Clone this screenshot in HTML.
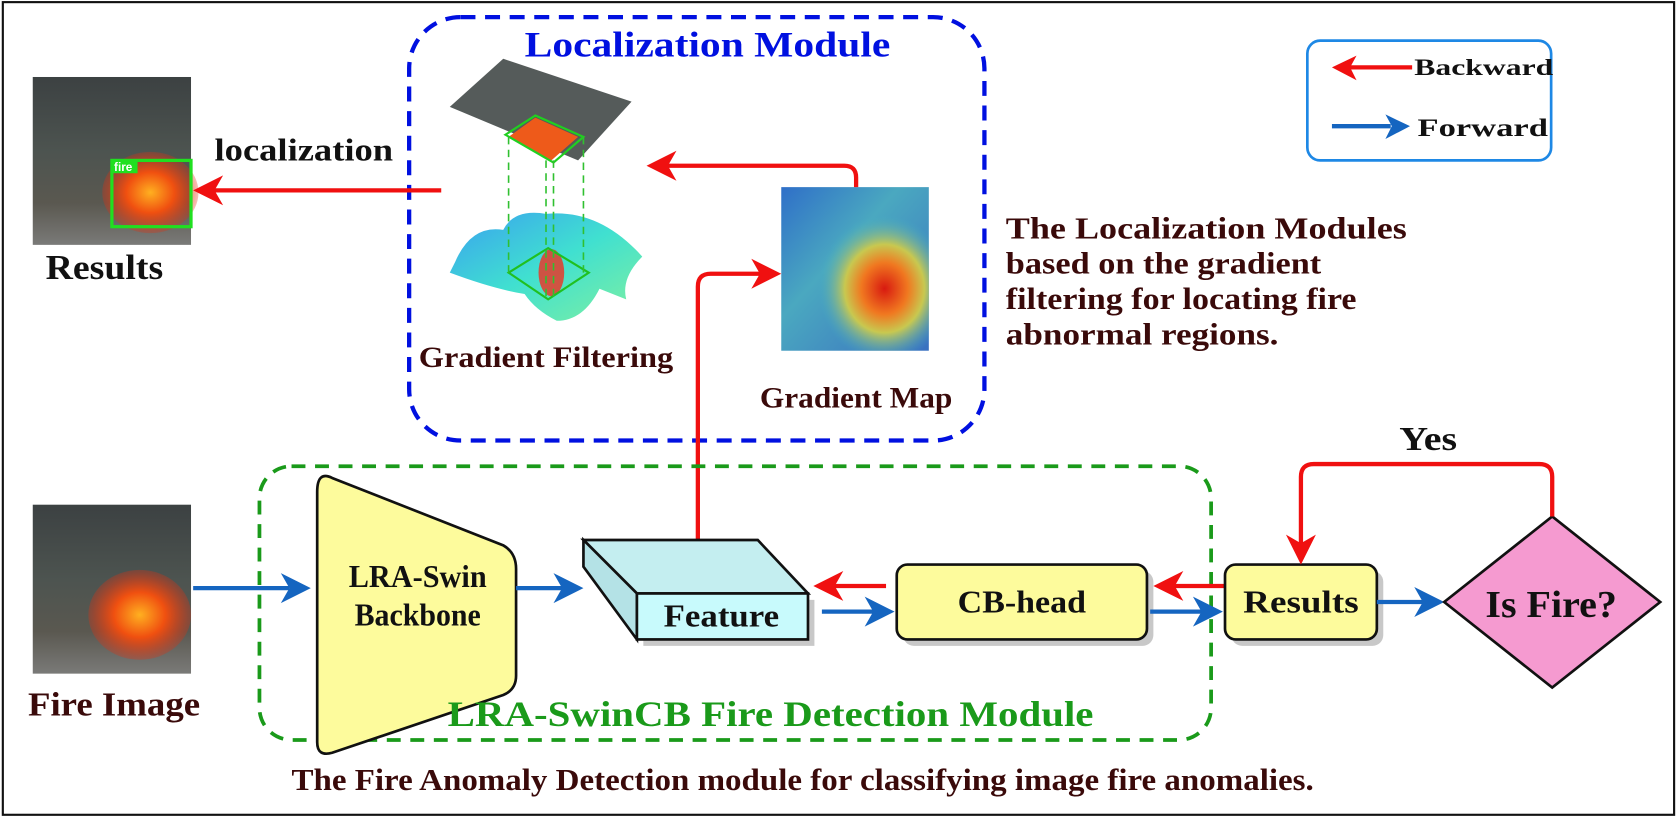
<!DOCTYPE html>
<html><head><meta charset="utf-8"><style>
html,body{margin:0;padding:0;background:#fff;}
svg{display:block;}
text{font-family:"Liberation Serif",serif;font-weight:bold;}
</style></head><body>
<svg width="1678" height="818" viewBox="0 0 1568 765" xmlns="http://www.w3.org/2000/svg">
<defs>
<linearGradient id="fireimg" x1="0" y1="0" x2="0" y2="1">
<stop offset="0" stop-color="#3c4142"/><stop offset="0.45" stop-color="#4d5450"/><stop offset="0.75" stop-color="#5a5850"/><stop offset="1" stop-color="#7a7a78"/></linearGradient>
<radialGradient id="flame" cx="0.5" cy="0.5" r="0.5"><stop offset="0" stop-color="#ffb020"/><stop offset="0.5" stop-color="#f05010"/><stop offset="1" stop-color="#e03010" stop-opacity="0.3"/></radialGradient>
<radialGradient id="heat" cx="0.7" cy="0.62" r="0.45"><stop offset="0" stop-color="#d81a10"/><stop offset="0.35" stop-color="#f07820"/><stop offset="0.6" stop-color="#c8c850"/><stop offset="1" stop-color="#3fb0c8" stop-opacity="0"/></radialGradient>
<linearGradient id="heatbg" x1="0" y1="0" x2="1" y2="1"><stop offset="0" stop-color="#2f6fc8"/><stop offset="0.4" stop-color="#4aa8c0"/><stop offset="1" stop-color="#3a70c0"/></linearGradient>
<linearGradient id="surf" x1="0" y1="0" x2="1" y2="1"><stop offset="0" stop-color="#3aa0f0"/><stop offset="0.5" stop-color="#40e0d0"/><stop offset="1" stop-color="#80f0a0"/></linearGradient>
</defs>
<rect x="2" y="2" width="1563" height="760" fill="#fff" stroke="#111" stroke-width="2"/>

<rect x="382" y="16" width="538" height="396" rx="48" fill="none" stroke="#0010e0" stroke-width="4" stroke-dasharray="14,9"/>
<text x="661" y="53" font-size="34" fill="#0010e0" text-anchor="middle" textLength="342" lengthAdjust="spacingAndGlyphs">Localization Module</text>

<rect x="1222" y="38" width="228" height="112" rx="12" fill="#fff" stroke="#1e88e5" stroke-width="2.5"/>
<line x1="1320" y1="63" x2="1260" y2="63" stroke="#f01010" stroke-width="4"/>
<polygon points="1245,63 1268,52 1262,63 1268,75" fill="#f01010"/>
<text x="1322" y="70" font-size="22" fill="#111" textLength="130" lengthAdjust="spacingAndGlyphs">Backward</text>
<line x1="1245" y1="118" x2="1300" y2="118" stroke="#1565c0" stroke-width="4"/>
<polygon points="1318,118 1295,107 1301,118 1295,130" fill="#1565c0"/>
<text x="1325" y="127" font-size="24" fill="#111" textLength="122" lengthAdjust="spacingAndGlyphs">Forward</text>

<rect x="30" y="72" width="148" height="157" fill="url(#fireimg)"/>
<ellipse cx="140" cy="180" rx="45" ry="38" fill="url(#flame)"/>
<rect x="104" y="150" width="74" height="62" fill="none" stroke="#20e020" stroke-width="3"/>
<rect x="104" y="150" width="24" height="12" fill="#20e020"/>
<text x="106" y="160" font-size="11" fill="#fff" style="font-family:'Liberation Sans',sans-serif">fire</text>
<text x="97" y="261" font-size="33" fill="#111" text-anchor="middle" textLength="110" lengthAdjust="spacingAndGlyphs">Results</text>
<text x="200" y="150" font-size="30" fill="#111" textLength="167" lengthAdjust="spacingAndGlyphs">localization</text>
<line x1="412" y1="178" x2="198" y2="178" stroke="#f01010" stroke-width="4"/>
<polygon points="180,178 208,164 200,178 208,192" fill="#f01010"/>

<polygon points="420,100 470,55 590,95 540,150" fill="#555b5a"/>
<polygon points="475,128 500,110 540,128 515,150" fill="#ee5a1a"/>
<polygon points="472,126 500,108 545,128 517,152" fill="none" stroke="#20d020" stroke-width="2"/>
<path d="M425,245 Q440,210 470,215 Q480,195 510,200 Q560,195 600,240 Q580,260 585,280 L560,270 Q545,300 520,300 Q500,290 490,275 Q460,270 420,255 Z" fill="url(#surf)"/>
<ellipse cx="515" cy="255" rx="12" ry="22" fill="#f03020" opacity="0.8"/>
<polygon points="475,255 512,232 550,255 512,280" fill="none" stroke="#20c020" stroke-width="2"/>
<g stroke="#30c030" stroke-width="1.5" stroke-dasharray="7,5">
<line x1="475" y1="128" x2="475" y2="255"/><line x1="545" y1="128" x2="545" y2="255"/>
<line x1="510" y1="150" x2="510" y2="280"/><line x1="517" y1="150" x2="517" y2="280"/>
</g>
<text x="510" y="343" font-size="28" fill="#3a0a0a" text-anchor="middle" textLength="238" lengthAdjust="spacingAndGlyphs">Gradient Filtering</text>

<rect x="730" y="175" width="138" height="153" fill="url(#heatbg)"/>
<rect x="730" y="175" width="138" height="153" fill="url(#heat)"/>
<text x="800" y="381" font-size="28" fill="#3a0a0a" text-anchor="middle" textLength="180" lengthAdjust="spacingAndGlyphs">Gradient Map</text>
<path d="M800,175 L800,166 Q800,155 789,155 L622,155" fill="none" stroke="#f01010" stroke-width="4"/>
<polygon points="604,155 632,141 624,155 632,169" fill="#f01010"/>
<path d="M652,505 L652,268 Q652,256 664,256 L712,256" fill="none" stroke="#f01010" stroke-width="4"/>
<polygon points="730,256 702,242 710,256 702,270" fill="#f01010"/>

<g font-size="29" fill="#3a0a0a">
<text x="940" y="223" textLength="375" lengthAdjust="spacingAndGlyphs">The Localization Modules</text>
<text x="940" y="256" textLength="295" lengthAdjust="spacingAndGlyphs">based on the gradient</text>
<text x="940" y="289" textLength="328" lengthAdjust="spacingAndGlyphs">filtering for locating fire</text>
<text x="940" y="322" textLength="255" lengthAdjust="spacingAndGlyphs">abnormal regions.</text>
</g>

<rect x="242" y="436" width="890" height="256" rx="30" fill="none" stroke="#1a9a1a" stroke-width="3.5" stroke-dasharray="13,9"/>

<rect x="30" y="472" width="148" height="158" fill="url(#fireimg)"/>
<ellipse cx="130" cy="575" rx="48" ry="42" fill="url(#flame)"/>
<text x="106" y="669" font-size="32" fill="#3a0a0a" text-anchor="middle" textLength="161" lengthAdjust="spacingAndGlyphs">Fire Image</text>
<line x1="180" y1="550" x2="270" y2="550" stroke="#1565c0" stroke-width="4"/>
<polygon points="290,550 262,536 270,550 262,564" fill="#1565c0"/>

<path d="M310,447 L470,510 Q482,517 482,532 L482,632 Q482,645 470,650 L310,704 Q296,708 296,694 L296,460 Q296,440 310,447 Z" fill="#fdfb9c" stroke="#111" stroke-width="2.5"/>
<text x="390" y="549" font-size="30" fill="#111" text-anchor="middle" textLength="129" lengthAdjust="spacingAndGlyphs">LRA-Swin</text>
<text x="390" y="585" font-size="30" fill="#111" text-anchor="middle" textLength="118" lengthAdjust="spacingAndGlyphs">Backbone</text>
<line x1="482" y1="550" x2="525" y2="550" stroke="#1565c0" stroke-width="4"/>
<polygon points="545,550 517,536 525,550 517,564" fill="#1565c0"/>

<text x="720" y="679" font-size="34" fill="#1a9a1a" text-anchor="middle" textLength="604" lengthAdjust="spacingAndGlyphs">LRA-SwinCB Fire Detection Module</text>

<polygon points="601,561 761,561 761,604 601,604" fill="#c8c8c8"/>
<polygon points="545,505 708,505 755,555 595,555" fill="#c4eef0" stroke="#111" stroke-width="2.5"/>
<polygon points="545,505 595,555 595,598 545,530" fill="#b4e2e6" stroke="#111" stroke-width="2.5"/>
<rect x="595" y="555" width="160" height="43" fill="#c8fafc" stroke="#111" stroke-width="2.5"/>
<text x="674" y="586" font-size="30" fill="#111" text-anchor="middle" textLength="108" lengthAdjust="spacingAndGlyphs">Feature</text>

<line x1="828" y1="548" x2="778" y2="548" stroke="#f01010" stroke-width="4"/>
<polygon points="760,548 788,534 780,548 788,562" fill="#f01010"/>
<line x1="768" y1="572" x2="818" y2="572" stroke="#1565c0" stroke-width="4"/>
<polygon points="836,572 808,558 816,572 808,586" fill="#1565c0"/>

<rect x="844" y="534" width="234" height="70" rx="10" fill="#c8c8c8"/>
<rect x="838" y="528" width="234" height="70" rx="10" fill="#fdfb9c" stroke="#111" stroke-width="2.5"/>
<text x="955" y="573" font-size="30" fill="#111" text-anchor="middle" textLength="120" lengthAdjust="spacingAndGlyphs">CB-head</text>

<line x1="1145" y1="548" x2="1096" y2="548" stroke="#f01010" stroke-width="4"/>
<polygon points="1078,548 1106,534 1098,548 1106,562" fill="#f01010"/>
<line x1="1075" y1="572" x2="1125" y2="572" stroke="#1565c0" stroke-width="4"/>
<polygon points="1143,572 1115,558 1123,572 1115,586" fill="#1565c0"/>

<rect x="1151" y="534" width="142" height="70" rx="10" fill="#c8c8c8"/>
<rect x="1145" y="528" width="142" height="70" rx="10" fill="#fdfb9c" stroke="#111" stroke-width="2.5"/>
<text x="1216" y="573" font-size="30" fill="#111" text-anchor="middle" textLength="108" lengthAdjust="spacingAndGlyphs">Results</text>
<line x1="1287" y1="563" x2="1332" y2="563" stroke="#1565c0" stroke-width="4"/>
<polygon points="1350,563 1322,549 1330,563 1322,577" fill="#1565c0"/>

<polygon points="1451,483 1552,563 1451,643 1350,563" fill="#f59ad0" stroke="#111" stroke-width="2.5"/>
<text x="1450" y="577" font-size="36" fill="#111" text-anchor="middle" textLength="123" lengthAdjust="spacingAndGlyphs">Is Fire?</text>
<path d="M1451,483 L1451,446 Q1451,434 1439,434 L1228,434 Q1216,434 1216,446 L1216,510" fill="none" stroke="#f01010" stroke-width="4"/>
<polygon points="1216,528 1202,500 1216,508 1230,500" fill="#f01010"/>
<text x="1335" y="421" font-size="32" fill="#111" text-anchor="middle" textLength="54" lengthAdjust="spacingAndGlyphs">Yes</text>

<text x="750" y="739" font-size="29" fill="#3a0a0a" text-anchor="middle" textLength="956" lengthAdjust="spacingAndGlyphs">The Fire Anomaly Detection module for classifying image fire anomalies.</text>
</svg>
</body></html>
